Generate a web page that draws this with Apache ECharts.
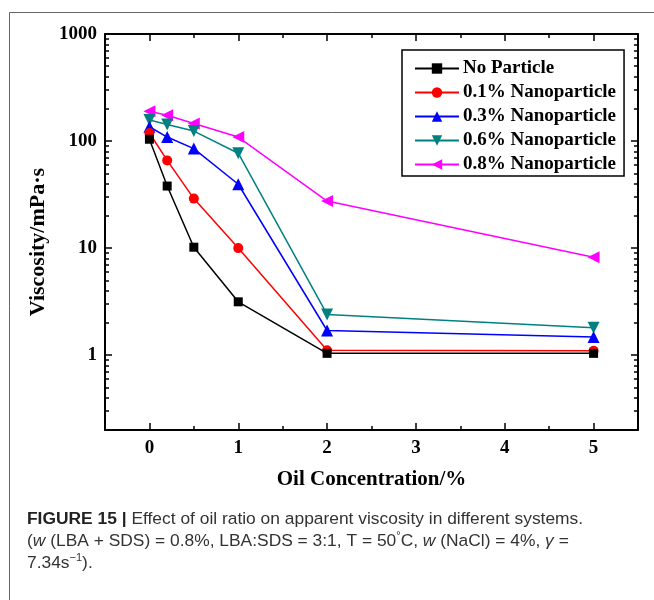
<!DOCTYPE html>
<html>
<head>
<meta charset="utf-8">
<script src="https://cdn.jsdelivr.net/npm/echarts@6/dist/echarts.min.js"></script>
<style>
html,body{margin:0;padding:0;background:#fff;}
#chart{width:654px;height:600px;}
</style>
</head>
<body>
<div id="chart"></div>
<script>
// ---- data ----
const oilConc = [0, 0.2, 0.5, 1, 2, 5];
const seriesNames = ['No Particle', '0.1% Nanoparticle', '0.3% Nanoparticle', '0.6% Nanoparticle', '0.8% Nanoparticle'];
const noParticle = [104, 38, 10.2, 3.15, 1.04, 1.04];
const nano01 = [119, 66, 29, 10, 1.11, 1.1];
const nano03 = [136, 109, 85, 39.5, 1.7, 1.48];
const nano06 = [157, 143, 124, 77, 2.4, 1.8];
const nano08 = [190, 174, 146, 109, 27.5, 8.2];
const xTickLabels = [0, 1, 2, 3, 4, 5];
const xMinorTicks = [0.5, 1.5, 2.5, 3.5, 4.5];
const yTickLabels = [1, 10, 100, 1000];
const yMinorTicks = [0.2,0.3,0.4,0.5,0.6,0.7,0.8,0.9,2,3,4,5,6,7,8,9,20,30,40,50,60,70,80,90,200,300,400,500,600,700,800,900];

const serif = '"Liberation Serif", "Times New Roman", serif';
const sans = '"Liberation Sans", Arial, sans-serif';
const colors = ['#000000', '#ff0000', '#0000ff', '#008080', '#ff00ff'];
const symbols = ['rect', 'circle', 'triangle', 'triangle', 'triangle'];
const rotates = [0, 0, 0, 180, 90];
const sizes = [9, 10, 12, 12, 12];
const allData = [noParticle, nano01, nano03, nano06, nano08];

const chart = echarts.init(document.getElementById('chart'), null, {renderer: 'canvas'});

function xAx(pos, ticks, len, showLine, showLabel, name) {
  return {
    type: 'value', position: pos, min: -0.5, max: 5.5, gridIndex: 0,
    axisLine: {show: showLine, onZero: false, lineStyle: {color: '#000', width: 2}},
    axisTick: {show: true, inside: true, length: len, customValues: ticks, lineStyle: {color: '#000', width: 1.5}},
    axisLabel: {show: showLabel, customValues: ticks, margin: 9, fontFamily: serif, fontWeight: 'bold', fontSize: 19, color: '#000',
      formatter: v => String(v)},
    splitLine: {show: false},
    name: name || '', nameLocation: 'middle', nameGap: 39,
    nameTextStyle: {fontFamily: serif, fontWeight: 'bold', fontSize: 21, color: '#000'}
  };
}
function yAx(pos, ticks, len, showLine, showLabel) {
  return {
    type: 'log', logBase: 10, position: pos, min: 0.2, max: 1000, gridIndex: 0,
    axisLine: {show: showLine, onZero: false, lineStyle: {color: '#000', width: 2}},
    axisTick: {show: true, inside: true, length: len, customValues: ticks, lineStyle: {color: '#000', width: 1.5}},
    axisLabel: {show: showLabel, customValues: ticks, margin: 8, fontFamily: serif, fontWeight: 'bold', fontSize: 19, color: '#000',
      formatter: v => String(v)},
    splitLine: {show: false}
  };
}

const series = seriesNames.map((n, i) => ({
  name: n, type: 'line', xAxisIndex: 0, yAxisIndex: 0,
  data: oilConc.map((x, j) => [x, allData[i][j]]),
  symbol: symbols[i], symbolSize: sizes[i], symbolRotate: rotates[i],
  lineStyle: {color: colors[i], width: 1.5},
  itemStyle: {color: colors[i]},
  showAllSymbol: true, animation: false, z: 10 - i
}));

chart.setOption({
  animation: false,
  backgroundColor: '#fff',
  grid: {left: 105, top: 34, right: 16, bottom: 170, containLabel: false},
  xAxis: [
    xAx('bottom', xTickLabels, 7, true, true, 'Oil Concentration/%'),
    xAx('bottom', xMinorTicks, 4, false, false),
    xAx('top', xTickLabels, 7, true, false),
    xAx('top', xMinorTicks, 4, false, false)
  ],
  yAxis: [
    yAx('left', yTickLabels, 7, true, true),
    yAx('left', yMinorTicks, 4, false, false),
    yAx('right', yTickLabels, 7, true, false),
    yAx('right', yMinorTicks, 4, false, false)
  ],
  legend: {
    data: seriesNames, orient: 'vertical', left: 402, top: 50,
    itemWidth: 44, itemHeight: 13, itemGap: 5,
    textStyle: {fontFamily: serif, fontWeight: 'bold', fontSize: 19, color: '#000', padding: [0, 0, 0, -1]},
    backgroundColor: '#fff', borderColor: '#000', borderWidth: 1.5,
    padding: [9, 8, 2, 12]
  },
  series: series,
  graphic: [
    {type: 'line', shape: {x1: 9.5, y1: 12.5, x2: 654, y2: 12.5}, style: {stroke: '#666', lineWidth: 1}},
    {type: 'line', shape: {x1: 9.5, y1: 12.5, x2: 9.5, y2: 600}, style: {stroke: '#666', lineWidth: 1}},
    {type: 'text', x: 38, y: 242, rotation: Math.PI / 2, style: {
      text: 'Viscosity/mPa·s', fontFamily: serif, fontWeight: 'bold', fontSize: 22, fill: '#000',
      align: 'center', verticalAlign: 'middle'}},
    {type: 'text', left: 27, top: 511, style: {
      text: '{b|FIGURE 15 |}{n| Effect of oil ratio on apparent viscosity in different systems.}\n{n|(}{i|w}{n| (LBA + SDS) = 0.8%, LBA:SDS = 3:1, T = 50}{sup|°}{n|C, }{i|w}{n| (NaCl) = 4%, }{i|γ}{n| =}\n{n|7.34s}{sup|−1}{n|).}',
      rich: {
        b: {fontFamily: sans, fontWeight: 'bold', fontSize: 17.4, fill: '#222', lineHeight: 22},
        n: {fontFamily: sans, fontSize: 17.4, fill: '#333', lineHeight: 22},
        i: {fontFamily: sans, fontStyle: 'italic', fontSize: 17.4, fill: '#333', lineHeight: 22},
        sup: {fontFamily: sans, fontSize: 11, fill: '#333', verticalAlign: 'top', lineHeight: 22, padding: [0,0,8,0]}
      }
    }}
  ]
});
</script>
</body>
</html>
